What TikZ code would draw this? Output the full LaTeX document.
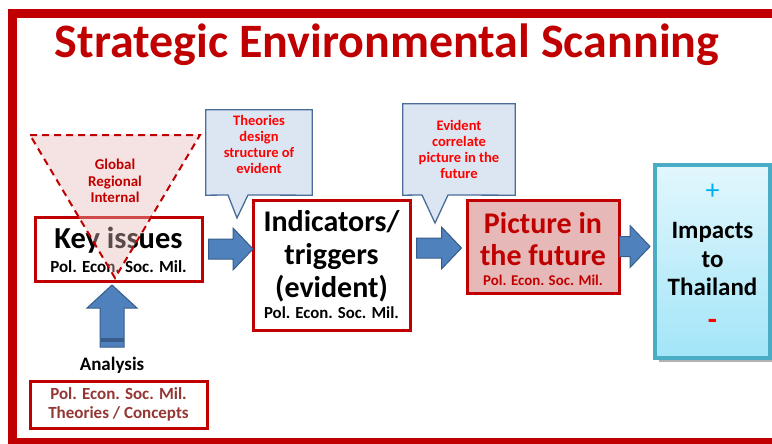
\documentclass[tikz,border=0pt]{standalone}
\usepackage{fontspec}
\setmainfont{Carlito}
\usetikzlibrary{calc}
\definecolor{dred}{HTML}{C00000}
\definecolor{brred}{HTML}{943634}
\definecolor{pinkfill}{HTML}{E6B9B8}
\definecolor{calfill}{HTML}{DCE6F2}
\definecolor{calline}{HTML}{4A6C98}
\definecolor{arfill}{HTML}{4F81BD}
\definecolor{arline}{HTML}{385D8A}
\definecolor{cyanline}{HTML}{4BACC6}
\definecolor{plusc}{HTML}{00B0F0}
\definecolor{imptop}{HTML}{E2F7FD}
\definecolor{impbot}{HTML}{A2E5F8}
\tikzset{
  redbox/.style={draw=dred, line width=3pt, fill=white, inner sep=0pt, align=center},
  callbox/.style={draw=calline, line width=1.3pt, fill=calfill, line join=miter},
  calltext/.style={text=red, font=\bfseries\fontsize{14.5}{16}\selectfont, align=center, inner sep=0pt},
  barrow/.style={draw=arline, line width=1pt, fill=arfill, line join=miter},
}
\newcommand{\blockarrow}[2]{%
  \path[barrow] let \p1=(#1), \p2=(#2) in
    (\x1,\y1+10pt) -- (\x2-20pt,\y1+10pt) -- (\x2-20pt,\y1+21pt) -- (\x2,\y1)
    -- (\x2-20pt,\y1-21pt) -- (\x2-20pt,\y1-10pt) -- (\x1,\y1-10pt) -- cycle;}
\begin{document}
\begin{tikzpicture}[x=1pt,y=-1pt,font=\bfseries]
\useasboundingbox (0,0) rectangle (772,444);
\begin{scope}
  \clip (0,0) rectangle (772,444);
  \draw[line width=9pt, dred] (12.5,13.5) rectangle (800,442.5);
\end{scope}

% title
\node[text=dred, font=\bfseries\fontsize{48}{52}\selectfont, inner sep=0pt] (title) at (387,45) {Strategic Environmental Scanning};

% key issues box
\node[redbox, minimum width=167pt, minimum height=64pt] (key) at (118.5,249) {};
\node[inner sep=0pt, font=\bfseries\fontsize{30.5}{32}\selectfont] (keyt) at (118.5,240) {Key issues};
\node[inner sep=0pt, font=\bfseries\fontsize{17}{19}\selectfont] (keys) at (118.5,267) {Pol. Econ. Soc. Mil.};

% dashed triangle over key issues
\path[fill=pinkfill, fill opacity=0.4] (30,135) -- (200,135) -- (115,278) -- cycle;
\draw[dred, line width=2pt, dash pattern=on 7pt off 5pt] (30,135) -- (200,135) -- (115,278) -- cycle;
\node[text=dred, align=center, font=\bfseries\fontsize{15}{16.5}\selectfont, inner sep=0pt] (gri) at (115,181) {Global\\Regional\\Internal};

% up arrow
\coordinate (uptip) at (112,285);
\path[barrow] (100,347) -- (100,308) -- (87,308) -- (uptip) -- (137,308) -- (124,308) -- (124,347) -- cycle;
\fill[arline] (100.5,338) rectangle (123.5,342);

\node[inner sep=0pt, font=\bfseries\fontsize{19}{21}\selectfont] (ana) at (112,365) {Analysis};

% bottom box
\node[redbox, minimum width=177pt, minimum height=47pt, text=brred, font=\bfseries\fontsize{17}{19}\selectfont] (conc) at (118.5,404.5) {Pol. Econ. Soc. Mil.\\Theories / Concepts};

% indicators box
\node[redbox, minimum width=157pt, minimum height=130pt] (ind) at (331.5,265) {};
\node[inner sep=0pt, align=center, font=\bfseries\fontsize{30}{33}\selectfont] (indt) at (331.5,256) {Indicators/\\triggers\\(evident)};
\node[inner sep=0pt, font=\bfseries\fontsize{16.8}{18}\selectfont] (inds) at (331.5,313) {Pol. Econ. Soc. Mil.};

% picture in the future
\node[redbox, fill=pinkfill, minimum width=152pt, minimum height=93pt] (pic) at (543,246.5) {};
\node[inner sep=0pt, align=center, text=dred, font=\bfseries\fontsize{30}{32}\selectfont] (pict) at (543,239) {Picture in\\the future};
\node[inner sep=0pt, text=dred, font=\bfseries\fontsize{14.9}{16}\selectfont] (pics) at (543,280) {Pol. Econ. Soc. Mil.};

% impacts box
\fill[black!30] (659,169) rectangle (774,362);
\node[draw=cyanline, line width=4pt, top color=imptop, bottom color=impbot, minimum width=115pt, minimum height=193pt, inner sep=0pt] (imp) at (712.5,261.5) {};
\node[inner sep=0pt, align=center, font=\bfseries\fontsize{25}{28.5}\selectfont] (impt) at (712.5,259) {Impacts\\to\\Thailand};
\node[inner sep=0pt, text=plusc, font=\fontsize{28}{30}\selectfont] (plus) at (712.5,192) {+};
\node[inner sep=0pt, text=red, font=\bfseries\fontsize{30}{30}\selectfont] (minus) at (712.5,324) {-};

% callouts
\node[minimum width=106pt, minimum height=85pt, inner sep=0pt] (c1) at (259,152.5) {};
\draw[callbox] (c1.north west) -- (c1.north east) -- (c1.south east) -- (248,195) -- (237,218) -- (228,195) -- (c1.south west) -- cycle;
\node[calltext] (c1t) at (259,144) {Theories\\design\\structure of\\evident};

\node[minimum width=112pt, minimum height=91pt, inner sep=0pt] (c2) at (459,149.5) {};
\draw[callbox] (c2.north west) -- (c2.north east) -- (c2.south east) -- (448,195) -- (435,223) -- (422,195) -- (c2.south west) -- cycle;
\node[calltext] (c2t) at (459,149) {Evident\\correlate\\picture in the\\future};

% block arrows
\coordinate (a1s) at ($(key.east)+(5,0)$);
\coordinate (a1e) at (253,249);
\blockarrow{a1s}{a1e}
\coordinate (a2s) at ($(ind.east)+(5,-17)$);
\coordinate (a2e) at ($(pic.west)+(-4,1.5)$);
\blockarrow{a2s}{a2e}
\coordinate (a3s) at ($(pic.east)+(-1,0)$);
\coordinate (a3e) at ($(imp.west)+(-3,-15.5)$);
\blockarrow{a3s}{a3e}
\end{tikzpicture}
\end{document}
